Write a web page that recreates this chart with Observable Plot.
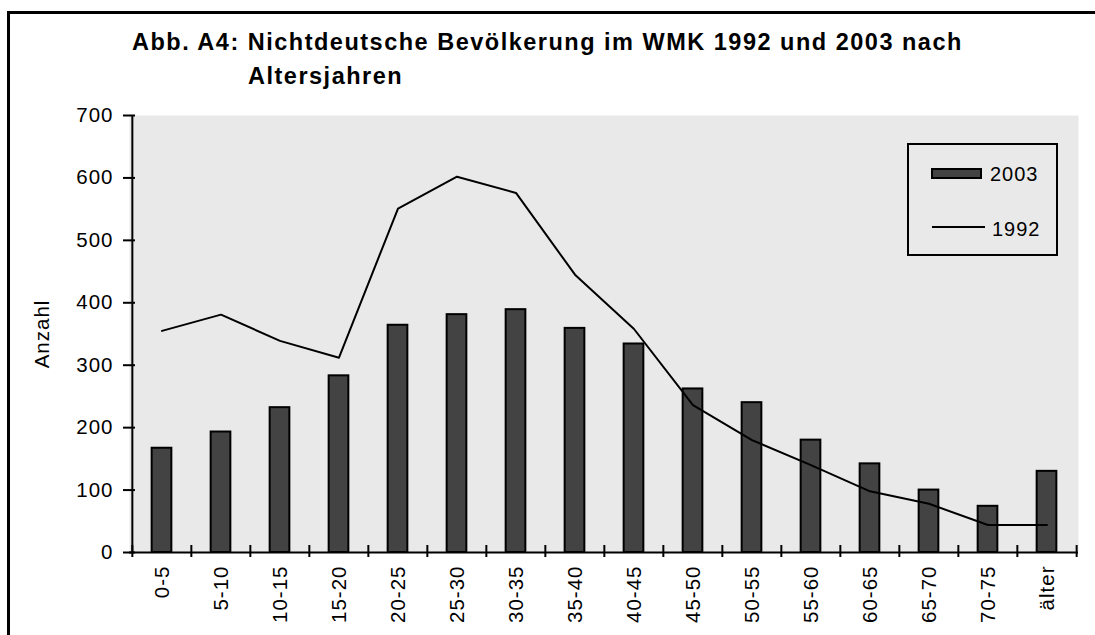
<!DOCTYPE html>
<html>
<head>
<meta charset="utf-8">
<script src="https://cdn.jsdelivr.net/npm/d3@7"></script>
<script src="https://cdn.jsdelivr.net/npm/@observablehq/plot@0.6"></script>
<style>
  html, body { margin: 0; padding: 0; background: #fff; overflow: hidden; }
  #wrap { position: relative; width: 1095px; height: 635px; overflow: hidden;
          font-family: "Liberation Sans", Arial, sans-serif; color: #000; }
  .title { position: absolute; font-weight: bold; font-size: 23.5px; line-height: 24px;
           letter-spacing: 1.5px; white-space: nowrap; }
  #chart { position: absolute; left: 0; top: 95px; }
  #legend { position: absolute; left: 907px; top: 143px; width: 147px; height: 109px;
            border: 2px solid #000; background: #e9e9e9; }
  .lt { position: absolute; font-size: 20px; line-height: 20px; letter-spacing: 1px; white-space: nowrap; }
  .sw-bar { position: absolute; left: 22px; top: 23px; width: 47px; height: 7px;
            background: #434343; border: 2px solid #000; }
  .sw-line { position: absolute; left: 23px; top: 81px; width: 53px; height: 2px; background: #000; }
  #frame { position: absolute; left: 7px; top: 11px; width: 1200px; height: 800px;
           border: 3px solid #000; pointer-events: none; }
</style>
</head>
<body>
<div id="wrap">
  <div class="title" id="t1" style="left:132px; top:30px;"></div>
  <div class="title" id="t2" style="left:248px; top:64px;"></div>
  <div id="chart"></div>
  <div id="legend">
    <div class="sw-bar"></div>
    <div class="lt" id="l1" style="left:81px; top:19px;"></div>
    <div class="sw-line"></div>
    <div class="lt" id="l2" style="left:83px; top:74px;"></div>
  </div>
  <div id="frame"></div>
</div>
<script>
const titleLines = ["Abb. A4: Nichtdeutsche Bevölkerung im WMK 1992 und 2003 nach", "Altersjahren"];
const yLabel = "Anzahl";
const categories = ["0-5","5-10","10-15","15-20","20-25","25-30","30-35","35-40","40-45","45-50","50-55","55-60","60-65","65-70","70-75","älter"];
const values2003 = [167,193,232,283,364,381,389,359,334,262,240,180,142,100,74,130];
const values1992 = [355,381,339,312,551,602,576,445,358,236,180,140,98,78,44,44];
const seriesNames = ["2003", "1992"];
const yTicks = [0,100,200,300,400,500,600,700];

document.getElementById("t1").textContent = titleLines[0];
document.getElementById("t2").textContent = titleLines[1];
document.getElementById("l1").textContent = seriesNames[0];
document.getElementById("l2").textContent = seriesNames[1];

const W = 1095, H = 540, ML = 129, MR = 17, MT = 20, MB = 83;
const step = (W - ML - MR) / categories.length;
const barW = 20;
const frameH = H - MT - MB;
const data = categories.map((c, i) => ({cat: c, v2003: values2003[i], v1992: values1992[i]}));

const chart = Plot.plot({
  width: W, height: H,
  marginLeft: ML, marginRight: MR, marginTop: MT, marginBottom: MB,
  style: {background: "transparent", fontFamily: "'Liberation Sans', Arial, sans-serif",
          fontSize: "20.5px", letterSpacing: "1px", color: "#000", overflow: "visible"},
  x: {type: "band", domain: categories, padding: 0},
  y: {domain: [0, 700]},
  marks: [
    Plot.frame({fill: "#e9e9e9", stroke: null}),
    Plot.barY(data, {x: "cat", y: "v2003", fill: "#434343", stroke: "#000", strokeWidth: 2,
      insetLeft: (step - barW) / 2, insetRight: (step - barW) / 2}),
    Plot.line(data, {x: "cat", y: "v1992", stroke: "#000", strokeWidth: 2}),
    Plot.ruleY([0], {stroke: "#000", strokeWidth: 2}),
    Plot.ruleX([categories[0]], {x: d => d, dx: -step / 2, stroke: "#000", strokeWidth: 2}),
    Plot.tickX(categories, {x: d => d, dx: -step / 2, insetTop: frameH - 7, insetBottom: -5, stroke: "#000", strokeWidth: 2}),
    Plot.tickX([categories[categories.length - 1]], {x: d => d, dx: step / 2, insetTop: frameH - 7, insetBottom: -5, stroke: "#000", strokeWidth: 2}),
    Plot.axisY({ticks: yTicks, tickSize: 12, dx: 6, tickPadding: 10, label: null, strokeWidth: 2}),
    Plot.axisX({tickRotate: -90, tickSize: 0, tickPadding: 13, label: null}),
    Plot.text([yLabel], {frameAnchor: "left", textAnchor: "middle", rotate: -90, dx: -87, fontSize: 20.5})
  ]
});
document.getElementById("chart").appendChild(chart);
</script>
</body>
</html>
